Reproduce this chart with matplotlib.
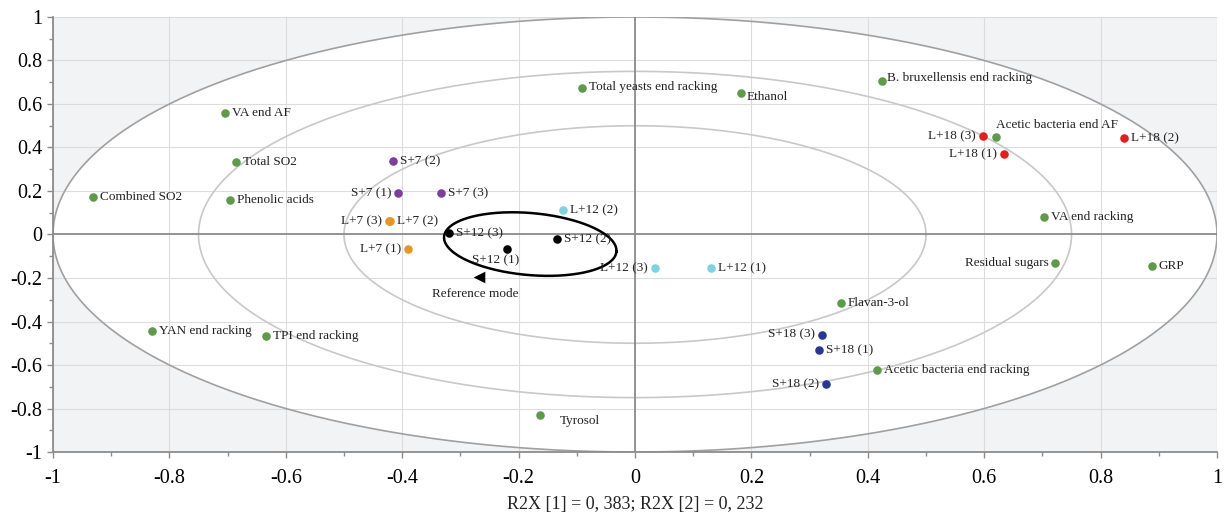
import numpy as np
import matplotlib
matplotlib.use("Agg")
import matplotlib.pyplot as plt
from matplotlib.ticker import MultipleLocator, FuncFormatter

# ---- data ----
var_names = ["VA end AF", "Total SO2", "Combined SO2", "Phenolic acids",
             "Total yeasts end racking", "Ethanol", "B. bruxellensis end racking",
             "Acetic bacteria end AF", "VA end racking", "Residual sugars", "GRP",
             "YAN end racking", "TPI end racking", "Flavan-3-ol",
             "Acetic bacteria end racking", "Tyrosol"]
var_x = [-0.705, -0.686, -0.931, -0.696, -0.091, 0.182, 0.424, 0.620, 0.703, 0.722,
         0.888, -0.830, -0.634, 0.354, 0.416, -0.163]
var_y = [0.560, 0.333, 0.172, 0.159, 0.674, 0.650, 0.706, 0.448, 0.080, -0.131,
         -0.145, -0.444, -0.467, -0.316, -0.623, -0.830]

l18_names = ["L+18 (3)", "L+18 (1)", "L+18 (2)"]
l18_x = [0.598, 0.634, 0.840]
l18_y = [0.453, 0.370, 0.444]

s7_names = ["S+7 (2)", "S+7 (1)", "S+7 (3)"]
s7_x = [-0.416, -0.407, -0.333]
s7_y = [0.338, 0.190, 0.190]

l7_names = ["L+7 (3)", "L+7 (2)", "L+7 (1)"]
l7_x = [-0.423, -0.421, -0.390]
l7_y = [0.062, 0.062, -0.066]

l12_names = ["L+12 (2)", "L+12 (3)", "L+12 (1)"]
l12_x = [-0.124, 0.034, 0.131]
l12_y = [0.113, -0.154, -0.154]

s12_names = ["S+12 (3)", "S+12 (1)", "S+12 (2)"]
s12_x = [-0.320, -0.220, -0.134]
s12_y = [0.007, -0.066, -0.020]

s18_names = ["S+18 (3)", "S+18 (1)", "S+18 (2)"]
s18_x = [0.321, 0.316, 0.328]
s18_y = [-0.461, -0.531, -0.687]

ref_x = [-0.268]
ref_y = [-0.197]
ref_label = "Reference mode"

circle_radii = [1.0, 0.75, 0.5]
tick_values = [-1, -0.8, -0.6, -0.4, -0.2, 0, 0.2, 0.4, 0.6, 0.8, 1]
xlabel = "R2X [1] = 0, 383; R2X [2] = 0, 232"

# ---- styles ----
serif = ["Liberation Serif", "DejaVu Serif"]
plt.rcParams["font.family"] = serif

fig = plt.figure(figsize=(12.24, 5.18), dpi=100)
ax = fig.add_axes([0.0433, 0.1274, 0.951, 0.8398])
ax.set_xlim(-1, 1)
ax.set_ylim(-1, 1)
ax.set_facecolor("#f2f3f5")

t = np.linspace(0, 2 * np.pi, 600)
# white interior of outer circle
ax.fill(circle_radii[0] * np.cos(t), circle_radii[0] * np.sin(t),
        color="white", zorder=0.2, lw=0)
ax.set_axisbelow(True)
ax.grid(True, color="#dcdcdc", lw=0.8)
circle_colors = ["#a0a0a0", "#c8c8c8", "#c8c8c8"]
for r, c in zip(circle_radii, circle_colors):
    ax.plot(r * np.cos(t), r * np.sin(t), color=c, lw=1.2, zorder=1)

ax.axhline(0, color="#8c8c8c", lw=1.3, zorder=1.1)
ax.axvline(0, color="#8c8c8c", lw=1.3, zorder=1.1)

# black confidence ellipse (shape defined in display pixels)
px_per_x, px_per_y = 582.0, 217.5
cx, cy = -0.180, -0.044
a_px, b_px, ang = 86.5, 31.0, np.deg2rad(-5)
ex = cx + (a_px * np.cos(t) * np.cos(ang) - b_px * np.sin(t) * np.sin(ang)) / px_per_x
ey = cy + (a_px * np.cos(t) * np.sin(ang) + b_px * np.sin(t) * np.cos(ang)) / px_per_y
ax.plot(ex, ey, color="black", lw=1.8, zorder=3)

for s in ["top", "right"]:
    ax.spines[s].set_visible(False)
for s in ["left", "bottom"]:
    ax.spines[s].set_color("#8c8c8c")
    ax.spines[s].set_linewidth(1.3)

ax.set_xticks(tick_values)
ax.set_yticks(tick_values)
fmt = FuncFormatter(lambda v, p: ("%g" % round(v, 2)))
ax.xaxis.set_major_formatter(fmt)
ax.yaxis.set_major_formatter(fmt)
ax.xaxis.set_minor_locator(MultipleLocator(0.1))
ax.yaxis.set_minor_locator(MultipleLocator(0.1))
ax.tick_params(which="both", color="#8c8c8c", labelsize=14.5, length=4, width=1)
ax.tick_params(which="minor", length=3)
ax.tick_params(axis="x", pad=8)
ax.set_xlabel(xlabel, fontsize=13, labelpad=6, color="#222222")

lab_fs = 9.5
groups = [
    (var_names, var_x, var_y, "#5e9a4a"),
    (l18_names, l18_x, l18_y, "#e0201f"),
    (s7_names, s7_x, s7_y, "#7b3f9a"),
    (l7_names, l7_x, l7_y, "#e89528"),
    (l12_names, l12_x, l12_y, "#7fd2df"),
    (s12_names, s12_x, s12_y, "#000000"),
    (s18_names, s18_x, s18_y, "#283891"),
]

# label placement (offset points, horizontal alignment)
R = ((5, 0), "left", "center")
L = ((-5, 0), "right", "center")
place = {
    "Residual sugars": L, "Ethanol": ((4, -3), "left", "center"),
    "Total yeasts end racking": ((5, 1), "left", "center"),
    "Acetic bacteria end AF": ((0, 4), "left", "bottom"),
    "Tyrosol": ((14, -4), "left", "center"),
    "L+18 (3)": L, "L+18 (1)": L, "S+7 (1)": L, "L+7 (3)": L, "L+7 (1)": L,
    "L+12 (3)": L, "S+18 (3)": L, "S+18 (2)": L,
    "S+12 (1)": ((-8.5, -8), "center", "center"),
    "B. bruxellensis end racking": ((4, 2), "left", "center"),
}

for names, xs, ys, col in groups:
    ax.scatter(xs, ys, s=38, color=col, zorder=4, linewidths=0)
    for n, x, y in zip(names, xs, ys):
        off, ha, va = place.get(n, R)
        ax.annotate(n, (x, y), xytext=off, textcoords="offset points",
                    ha=ha, va=va, fontsize=lab_fs, color="#222222", zorder=5)

ax.scatter(ref_x, ref_y, marker="<", s=70, color="black", zorder=4, linewidths=0)
ax.annotate(ref_label, (ref_x[0], ref_y[0]), xytext=(-3, -8), textcoords="offset points",
            ha="center", va="top", fontsize=lab_fs, color="#222222")

fig.savefig("out.png", dpi=100)
